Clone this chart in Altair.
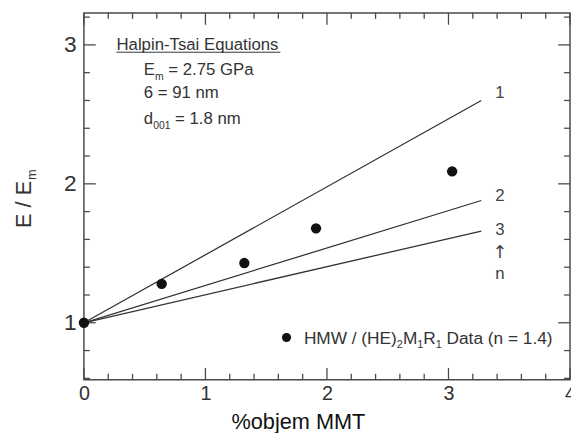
import altair as alt
import pandas as pd

# ---- data ----
vol_pct = [0.0, 0.64, 1.32, 1.91, 3.03]
modulus_ratio = [1.0, 1.28, 1.43, 1.68, 2.09]

curve_names = ["1", "2", "3"]
curve_x = [0.0, 3.27]
curve_end_y = [2.6, 1.88, 1.66]

x_major = [0, 1, 2, 3, 4]
x_minor = [0.2, 0.4, 0.6, 0.8, 1.2, 1.4, 1.6, 1.8, 2.2, 2.4, 2.6, 2.8,
           3.2, 3.4, 3.6, 3.8]
y_major = [1, 2, 3]
y_minor = [0.6, 0.8, 1.2, 1.4, 1.6, 1.8, 2.2, 2.4, 2.6, 2.8, 3.2]

heading = "Halpin-Tsai Equations"
heading_pos = (0.268, 2.965)
param_lines = [
    [("E", False), ("m", True), (" = 2.75 GPa", False)],
    [("6 = 91 nm", False)],
    [("d", False), ("001", True), (" = 1.8 nm", False)],
]
param_x = 0.493
param_y = [2.78, 2.615, 2.43]

curve_label_text = ["1", "2", "3", "n"]
curve_label_y = [2.652, 1.915, 1.667, 1.35]
arrow_y = 1.50
curve_label_x = 3.423

legend_parts = [("HMW / (HE)", False), ("2", True), ("M", False), ("1", True),
                ("R", False), ("1", True), (" Data (n = 1.4)", False)]
legend_dot = (1.667, 0.894)
legend_text_pos = (1.81, 0.844)

W, H = 493, 372
FONT = "Liberation Sans"
INK = "#333333"
FRAME = "#4a4a4a"

# Arial / Liberation Sans advance widths (per 1000 em)
ADV = {" ": 278, "(": 333, ")": 333, "/": 278, ".": 278, "=": 584, "-": 333,
       "%": 889, "A": 667, "D": 722, "E": 667, "G": 778, "H": 722, "M": 833,
       "P": 667, "R": 722, "S": 667, "T": 611, "W": 944,
       "a": 556, "b": 556, "d": 556, "e": 556, "i": 222, "j": 222, "l": 222,
       "m": 833, "n": 556, "o": 556, "p": 556, "q": 556, "s": 500, "t": 278,
       "u": 556}


def text_width(s, size):
    return sum(ADV.get(c, 556) for c in s) * size / 1000.0


X_DOM = [0, 4]
Y_DOM = [0.59, 3.23]
PX_PER_X = W / (X_DOM[1] - X_DOM[0])
PX_PER_Y = H / (Y_DOM[1] - Y_DOM[0])

xs = alt.Scale(domain=X_DOM, nice=False, zero=False)
ys = alt.Scale(domain=Y_DOM, nice=False, zero=False)

x_axis = alt.Axis(values=x_major, ticks=False, domain=False, grid=False,
                  labelFontSize=20, labelFont=FONT, labelColor=INK,
                  labelPadding=4, format="d", labelFlush=False,
                  labelOverlap=False, labelBound=False,
                  title="%objem MMT", titleFont=FONT, titleFontSize=22,
                  titleFontWeight="normal", titleColor="#111111",
                  titleX=217, titleY=49, titleBaseline="alphabetic",
                  titleAlign="center")
y_axis = alt.Axis(values=y_major, ticks=False, domain=False, grid=False,
                  labelFontSize=23, labelFont=FONT, labelColor=INK,
                  labelPadding=8, format="d", labelFlush=False, title=None)

X = alt.X("x:Q", scale=xs, axis=x_axis)
Y = alt.Y("y:Q", scale=ys, axis=y_axis)

# ---- tables ----
pts = pd.DataFrame({"x": vol_pct, "y": modulus_ratio})
rows = []
for n, ye in zip(curve_names, curve_end_y):
    rows.append({"n": n, "x": curve_x[0], "y": 1.0})
    rows.append({"n": n, "x": curve_x[1], "y": ye})
curves = pd.DataFrame(rows)

lines = alt.Chart(curves).mark_line(color="#333333", strokeWidth=1.3).encode(
    x=X, y=Y, detail="n:N")

points = alt.Chart(pts).mark_circle(size=110, color="#111111", opacity=1).encode(
    x=X, y=Y)


def ticks_x(vals, length, at_top):
    df = pd.DataFrame({"x": vals})
    return alt.Chart(df).mark_tick(orient="vertical", size=length, thickness=1.3,
                                   color=FRAME, opacity=1).encode(
        x=X, y=alt.value(length / 2 if at_top else H - length / 2))


def ticks_y(vals, length, at_left):
    df = pd.DataFrame({"y": vals})
    return alt.Chart(df).mark_tick(orient="horizontal", size=length, thickness=1.3,
                                   color=FRAME, opacity=1).encode(
        y=Y, x=alt.value(length / 2 if at_left else W - length / 2))


tick_layers = [
    ticks_x(x_major, 12, True), ticks_x(x_major, 12, False),
    ticks_x(x_minor, 6, True), ticks_x(x_minor, 6, False),
    ticks_y(y_major, 12, True), ticks_y(y_major, 12, False),
    ticks_y(y_minor, 6, True), ticks_y(y_minor, 6, False),
]


def rich_text(x, y, parts, size, sub_size, drop, color=INK):
    layers = []
    off = 0.0
    for txt, sub in parts:
        fs = sub_size if sub else size
        stripped = txt.lstrip(" ")
        off += text_width(txt[:len(txt) - len(stripped)], fs)
        df = pd.DataFrame({"x": [x], "y": [y], "t": [stripped]})
        layers.append(alt.Chart(df).mark_text(
            align="left", baseline="alphabetic", font=FONT, fontSize=fs,
            color=color, dx=off, dy=drop if sub else 0).encode(
            x=X, y=Y, text="t:N"))
        off += text_width(stripped, fs)
    return layers


HEAD_SIZE = 17
text_layers = []
hd = pd.DataFrame({"x": [heading_pos[0]], "y": [heading_pos[1]], "t": [heading]})
text_layers.append(alt.Chart(hd).mark_text(
    align="left", baseline="alphabetic", font=FONT, fontSize=HEAD_SIZE,
    color=INK).encode(x=X, y=Y, text="t:N"))
ul = pd.DataFrame({
    "x": [heading_pos[0]],
    "x2": [heading_pos[0] + text_width(heading, HEAD_SIZE) / PX_PER_X],
    "y": [heading_pos[1] - 2.5 / PX_PER_Y],
})
text_layers.append(alt.Chart(ul).mark_rule(color=INK, strokeWidth=1).encode(
    x=X, x2="x2:Q", y=Y))

for parts, py in zip(param_lines, param_y):
    text_layers += rich_text(param_x, py, parts, 17, 10.5, 5)

text_layers += rich_text(legend_text_pos[0], legend_text_pos[1], legend_parts,
                         17.5, 11, 4)

cl = pd.DataFrame({"t": curve_label_text, "y": curve_label_y,
                   "x": [curve_label_x] * len(curve_label_text)})
text_layers.append(alt.Chart(cl).mark_text(
    align="center", baseline="middle", font=FONT, fontSize=17,
    color="#444444").encode(x=X, y=Y, text="t:N"))
ar = pd.DataFrame({"t": ["\u2191"], "y": [arrow_y], "x": [curve_label_x]})
text_layers.append(alt.Chart(ar).mark_text(
    align="center", baseline="middle", font="DejaVu Sans", fontSize=18,
    color="#444444").encode(x=X, y=Y, text="t:N"))

ld = pd.DataFrame({"x": [legend_dot[0]], "y": [legend_dot[1]]})
legend_pt = alt.Chart(ld).mark_circle(size=85, color="#111111", opacity=1).encode(
    x=X, y=Y)

# y-axis title built from text marks (rotated, with subscript)
YT_SIZE, YT_SUB = 22, 13
yt_x, yt_y = -54, 218
ytitle = pd.DataFrame({"t": ["E / E"]})
yt_main = alt.Chart(ytitle).mark_text(
    align="left", baseline="alphabetic", angle=270, font=FONT, fontSize=YT_SIZE,
    color=INK).encode(x=alt.value(yt_x), y=alt.value(yt_y), text="t:N")
ytitle_sub = pd.DataFrame({"t": ["m"]})
yt_sub = alt.Chart(ytitle_sub).mark_text(
    align="left", baseline="alphabetic", angle=270, font=FONT, fontSize=YT_SUB,
    color=INK).encode(x=alt.value(yt_x + 5),
                      y=alt.value(yt_y - text_width("E / E", YT_SIZE) - 1),
                      text="t:N")

chart = alt.layer(lines, *tick_layers, points, *text_layers, legend_pt,
                  yt_main, yt_sub).properties(
    width=W, height=H, autosize="none",
    padding={"left": 77, "top": 2, "right": 1, "bottom": 51},
    background="white",
).configure_view(stroke=FRAME, strokeWidth=1.5)

chart.save("out.html", embed_options={"renderer": "svg", "actions": False})
